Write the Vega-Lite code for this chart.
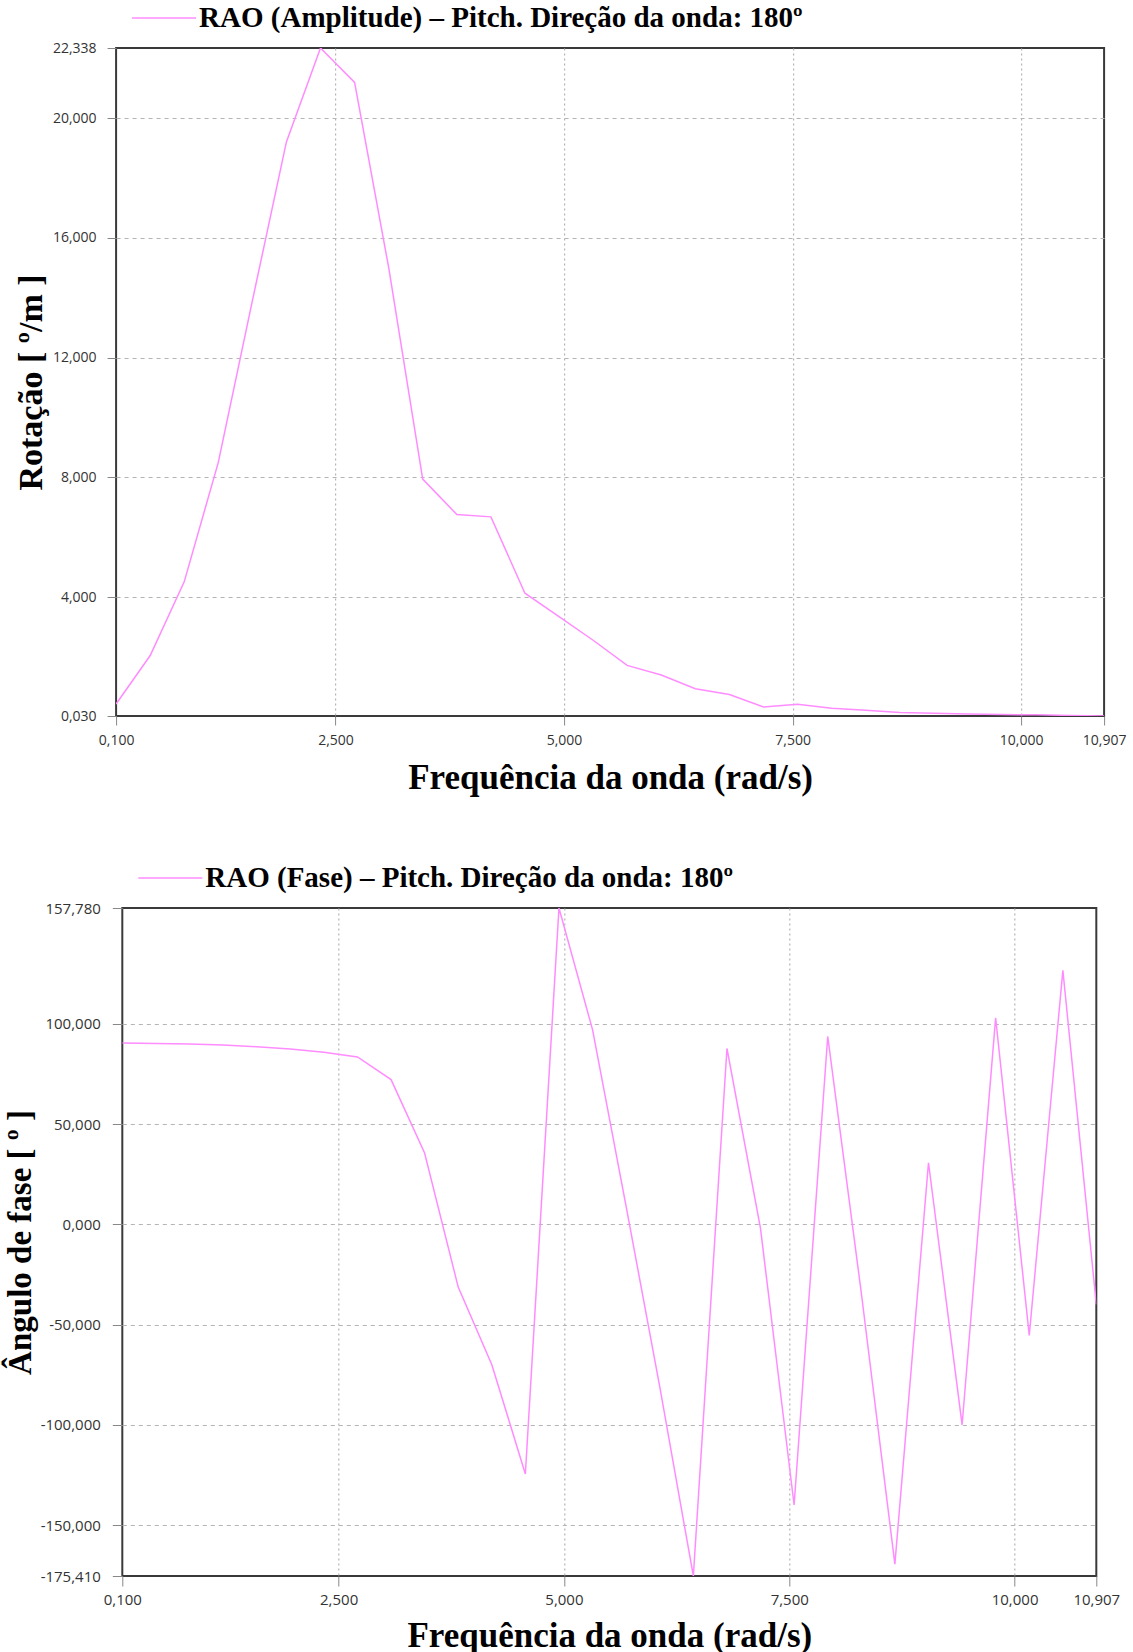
{
  "$schema": "https://vega.github.io/schema/vega-lite/v6.json",
  "background": "white",
  "padding": {"left": 3, "top": 2, "right": 2, "bottom": 2},
  "datasets": {
    "amp": [
      {"freq": 0.1, "valor": 0.43, "serie": "RAO (Amplitude) – Pitch. Direção da onda: 180º"},
      {"freq": 0.473, "valor": 2.05, "serie": "RAO (Amplitude) – Pitch. Direção da onda: 180º"},
      {"freq": 0.845, "valor": 4.51, "serie": "RAO (Amplitude) – Pitch. Direção da onda: 180º"},
      {"freq": 1.218, "valor": 8.5, "serie": "RAO (Amplitude) – Pitch. Direção da onda: 180º"},
      {"freq": 1.591, "valor": 13.9, "serie": "RAO (Amplitude) – Pitch. Direção da onda: 180º"},
      {"freq": 1.963, "valor": 19.2, "serie": "RAO (Amplitude) – Pitch. Direção da onda: 180º"},
      {"freq": 2.336, "valor": 22.338, "serie": "RAO (Amplitude) – Pitch. Direção da onda: 180º"},
      {"freq": 2.709, "valor": 21.19, "serie": "RAO (Amplitude) – Pitch. Direção da onda: 180º"},
      {"freq": 3.082, "valor": 15.0, "serie": "RAO (Amplitude) – Pitch. Direção da onda: 180º"},
      {"freq": 3.454, "valor": 7.94, "serie": "RAO (Amplitude) – Pitch. Direção da onda: 180º"},
      {"freq": 3.827, "valor": 6.76, "serie": "RAO (Amplitude) – Pitch. Direção da onda: 180º"},
      {"freq": 4.2, "valor": 6.68, "serie": "RAO (Amplitude) – Pitch. Direção da onda: 180º"},
      {"freq": 4.572, "valor": 4.13, "serie": "RAO (Amplitude) – Pitch. Direção da onda: 180º"},
      {"freq": 4.945, "valor": 3.35, "serie": "RAO (Amplitude) – Pitch. Direção da onda: 180º"},
      {"freq": 5.318, "valor": 2.56, "serie": "RAO (Amplitude) – Pitch. Direção da onda: 180º"},
      {"freq": 5.69, "valor": 1.72, "serie": "RAO (Amplitude) – Pitch. Direção da onda: 180º"},
      {"freq": 6.063, "valor": 1.4, "serie": "RAO (Amplitude) – Pitch. Direção da onda: 180º"},
      {"freq": 6.436, "valor": 0.94, "serie": "RAO (Amplitude) – Pitch. Direção da onda: 180º"},
      {"freq": 6.809, "valor": 0.75, "serie": "RAO (Amplitude) – Pitch. Direção da onda: 180º"},
      {"freq": 7.181, "valor": 0.33, "serie": "RAO (Amplitude) – Pitch. Direção da onda: 180º"},
      {"freq": 7.554, "valor": 0.42, "serie": "RAO (Amplitude) – Pitch. Direção da onda: 180º"},
      {"freq": 7.927, "valor": 0.29, "serie": "RAO (Amplitude) – Pitch. Direção da onda: 180º"},
      {"freq": 8.299, "valor": 0.22, "serie": "RAO (Amplitude) – Pitch. Direção da onda: 180º"},
      {"freq": 8.672, "valor": 0.15, "serie": "RAO (Amplitude) – Pitch. Direção da onda: 180º"},
      {"freq": 9.045, "valor": 0.12, "serie": "RAO (Amplitude) – Pitch. Direção da onda: 180º"},
      {"freq": 9.418, "valor": 0.1, "serie": "RAO (Amplitude) – Pitch. Direção da onda: 180º"},
      {"freq": 9.79, "valor": 0.08, "serie": "RAO (Amplitude) – Pitch. Direção da onda: 180º"},
      {"freq": 10.163, "valor": 0.07, "serie": "RAO (Amplitude) – Pitch. Direção da onda: 180º"},
      {"freq": 10.536, "valor": 0.05, "serie": "RAO (Amplitude) – Pitch. Direção da onda: 180º"},
      {"freq": 10.907, "valor": 0.03, "serie": "RAO (Amplitude) – Pitch. Direção da onda: 180º"}
    ],
    "fase": [
      {"freq": 0.1, "valor": 90.5, "serie": "RAO (Fase) – Pitch. Direção da onda: 180º"},
      {"freq": 0.473, "valor": 90.2, "serie": "RAO (Fase) – Pitch. Direção da onda: 180º"},
      {"freq": 0.845, "valor": 89.9, "serie": "RAO (Fase) – Pitch. Direção da onda: 180º"},
      {"freq": 1.218, "valor": 89.5, "serie": "RAO (Fase) – Pitch. Direção da onda: 180º"},
      {"freq": 1.591, "valor": 88.6, "serie": "RAO (Fase) – Pitch. Direção da onda: 180º"},
      {"freq": 1.963, "valor": 87.5, "serie": "RAO (Fase) – Pitch. Direção da onda: 180º"},
      {"freq": 2.336, "valor": 85.8, "serie": "RAO (Fase) – Pitch. Direção da onda: 180º"},
      {"freq": 2.709, "valor": 83.5, "serie": "RAO (Fase) – Pitch. Direção da onda: 180º"},
      {"freq": 3.082, "valor": 72.2, "serie": "RAO (Fase) – Pitch. Direção da onda: 180º"},
      {"freq": 3.454, "valor": 35.6, "serie": "RAO (Fase) – Pitch. Direção da onda: 180º"},
      {"freq": 3.827, "valor": -31.3, "serie": "RAO (Fase) – Pitch. Direção da onda: 180º"},
      {"freq": 4.2, "valor": -70, "serie": "RAO (Fase) – Pitch. Direção da onda: 180º"},
      {"freq": 4.572, "valor": -124.5, "serie": "RAO (Fase) – Pitch. Direção da onda: 180º"},
      {"freq": 4.945, "valor": 157.78, "serie": "RAO (Fase) – Pitch. Direção da onda: 180º"},
      {"freq": 5.318, "valor": 97, "serie": "RAO (Fase) – Pitch. Direção da onda: 180º"},
      {"freq": 5.69, "valor": 9, "serie": "RAO (Fase) – Pitch. Direção da onda: 180º"},
      {"freq": 6.063, "valor": -81, "serie": "RAO (Fase) – Pitch. Direção da onda: 180º"},
      {"freq": 6.436, "valor": -175.41, "serie": "RAO (Fase) – Pitch. Direção da onda: 180º"},
      {"freq": 6.809, "valor": 87.7, "serie": "RAO (Fase) – Pitch. Direção da onda: 180º"},
      {"freq": 7.181, "valor": -2, "serie": "RAO (Fase) – Pitch. Direção da onda: 180º"},
      {"freq": 7.554, "valor": -140, "serie": "RAO (Fase) – Pitch. Direção da onda: 180º"},
      {"freq": 7.927, "valor": 93.7, "serie": "RAO (Fase) – Pitch. Direção da onda: 180º"},
      {"freq": 8.299, "valor": -34, "serie": "RAO (Fase) – Pitch. Direção da onda: 180º"},
      {"freq": 8.672, "valor": -169.5, "serie": "RAO (Fase) – Pitch. Direção da onda: 180º"},
      {"freq": 9.045, "valor": 30.7, "serie": "RAO (Fase) – Pitch. Direção da onda: 180º"},
      {"freq": 9.418, "valor": -100, "serie": "RAO (Fase) – Pitch. Direção da onda: 180º"},
      {"freq": 9.79, "valor": 103, "serie": "RAO (Fase) – Pitch. Direção da onda: 180º"},
      {"freq": 10.163, "valor": -55.4, "serie": "RAO (Fase) – Pitch. Direção da onda: 180º"},
      {"freq": 10.536, "valor": 126.7, "serie": "RAO (Fase) – Pitch. Direção da onda: 180º"},
      {"freq": 10.907, "valor": -40, "serie": "RAO (Fase) – Pitch. Direção da onda: 180º"}
    ]
  },
  "vconcat": [
    {
      "width": 988,
      "height": 668,
      "data": {"name": "amp"},
      "mark": {"type": "line", "strokeWidth": 1.5, "clip": true},
      "encoding": {
        "x": {
          "field": "freq", "type": "quantitative",
          "scale": {"domain": [0.1, 10.907], "nice": false, "zero": false},
          "axis": {
            "title": "Frequência da onda (rad/s)",
            "values": [0.1, 2.5, 5, 7.5, 10, 10.907],
            "labelExpr": "replace(format(datum.value, '.3f'), '.', ',')",
            "labelFontSize": 14, "tickSize": 9, "labelPadding": 8, "titlePadding": 13,
            "gridOpacity": {"condition": {"test": "datum.value < 0.2 || datum.value > 10.8", "value": 0}, "value": 1}
          }
        },
        "y": {
          "field": "valor", "type": "quantitative",
          "scale": {"domain": [0.03, 22.338], "nice": false, "zero": false},
          "axis": {
            "title": "Rotação [ º/m ]",
            "values": [0.03, 4, 8, 12, 16, 20, 22.338],
            "labelExpr": "replace(format(datum.value, '.3f'), '.', ',')",
            "labelFontSize": 14, "tickSize": 9, "labelPadding": 11, "titlePadding": 4,
            "titleFontSize": 34,
            "gridOpacity": {"condition": {"test": "datum.value < 0.1 || datum.value > 22", "value": 0}, "value": 1}
          }
        },
        "color": {
          "field": "serie", "type": "nominal",
          "scale": {"range": ["#ff8cff"]},
          "legend": {
            "orient": "none", "legendX": 15, "legendY": -45, "title": null,
            "symbolType": "stroke", "symbolSize": 4096, "symbolStrokeWidth": 1.5,
            "clipHeight": 30,
            "labelFont": "Liberation Serif", "labelFontSize": 29, "labelFontWeight": "bold",
            "labelColor": "black", "labelOffset": 2, "labelLimit": 0
          }
        }
      }
    },
    {
      "width": 974,
      "height": 668,
      "data": {"name": "fase"},
      "mark": {"type": "line", "strokeWidth": 1.5, "clip": true},
      "encoding": {
        "x": {
          "field": "freq", "type": "quantitative",
          "scale": {"domain": [0.1, 10.907], "nice": false, "zero": false},
          "axis": {
            "title": "Frequência da onda (rad/s)",
            "values": [0.1, 2.5, 5, 7.5, 10, 10.907],
            "labelExpr": "replace(format(datum.value, '.3f'), '.', ',')",
            "labelFontSize": 15, "tickSize": 10, "labelPadding": 6, "titlePadding": 11,
            "gridOpacity": {"condition": {"test": "datum.value < 0.2 || datum.value > 10.8", "value": 0}, "value": 1}
          }
        },
        "y": {
          "field": "valor", "type": "quantitative",
          "scale": {"domain": [-175.41, 157.78], "nice": false, "zero": false},
          "axis": {
            "title": "Ângulo de fase [ º ]",
            "values": [-175.41, -150, -100, -50, 0, 50, 100, 157.78],
            "labelExpr": "replace(replace(format(datum.value, '.3f'), '.', ','), '−', '-')",
            "labelFontSize": 15, "tickSize": 10, "labelPadding": 12, "titlePadding": 3,
            "titleFontSize": 33,
            "gridOpacity": {"condition": {"test": "datum.value < -175 || datum.value > 157", "value": 0}, "value": 1}
          }
        },
        "color": {
          "field": "serie", "type": "nominal",
          "scale": {"range": ["#ff8cff"]},
          "legend": {
            "orient": "none", "legendX": 15, "legendY": -45, "title": null,
            "symbolType": "stroke", "symbolSize": 4096, "symbolStrokeWidth": 1.5,
            "clipHeight": 30,
            "labelFont": "Liberation Serif", "labelFontSize": 29, "labelFontWeight": "bold",
            "labelColor": "black", "labelOffset": 2, "labelLimit": 0
          }
        }
      }
    }
  ],
  "spacing": 66,
  "align": "all",
  "center": true,
  "resolve": {
    "scale": {"x": "independent", "y": "independent", "color": "independent"},
    "legend": {"color": "independent"},
    "axis": {"x": "independent", "y": "independent"}
  },
  "config": {
    "view": {"stroke": "#3a3a3a", "strokeWidth": 2},
    "axis": {
      "labelFont": "Open Sans", "labelColor": "#333",
      "tickColor": "#888", "domain": false,
      "gridColor": "#b4b4b4", "gridWidth": 1.2,
      "titleFont": "Liberation Serif", "titleFontWeight": "bold", "titleColor": "black",
      "labelFlush": false, "labelOverlap": false
    },
    "axisX": {"gridDash": [2, 3], "titleFontSize": 35},
    "axisY": {"gridDash": [4, 4]}
  }
}
